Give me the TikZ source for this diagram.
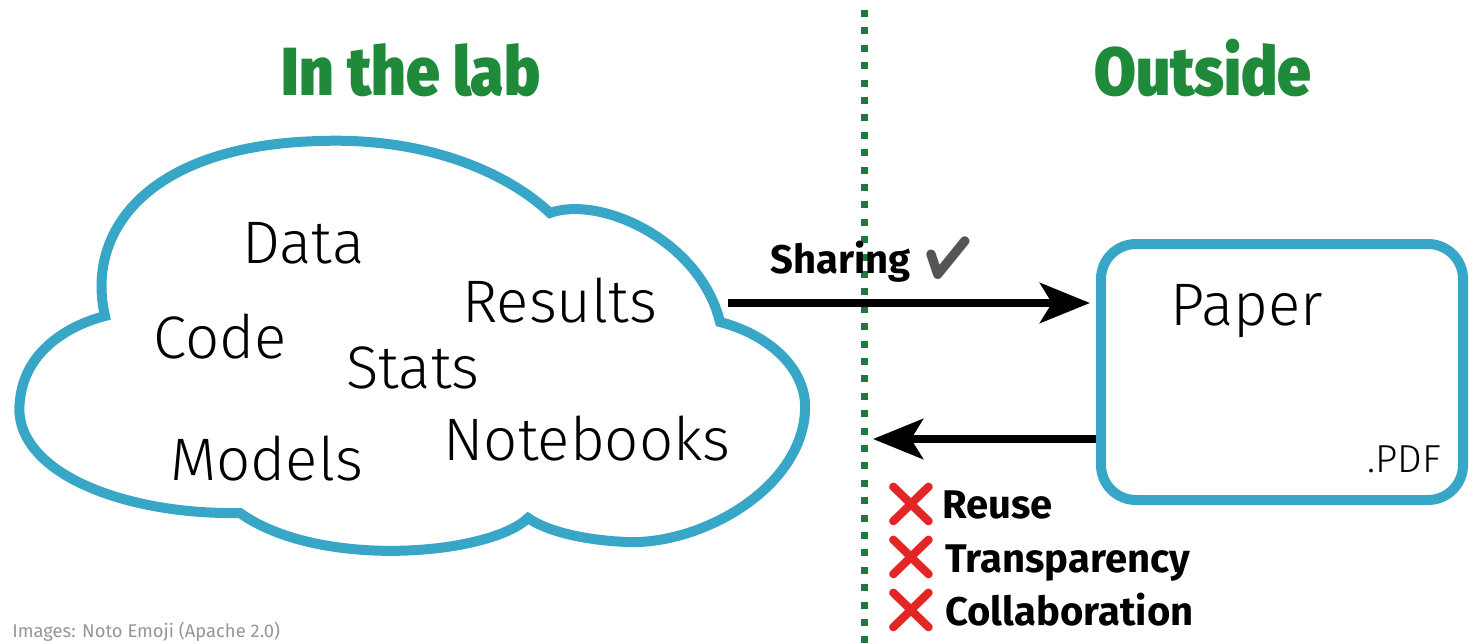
\documentclass[tikz,border=0pt]{standalone}
\usepackage{fontspec}
\setmainfont{Fira Sans}
\newfontfamily\lightf{Fira Sans Light}
\newfontfamily\heavyf{Fira Sans Black}[FakeStretch=0.89]
\newfontfamily\emojif{Noto Emoji}
\usetikzlibrary{arrows.meta}
\definecolor{cloudblue}{RGB}{56,166,199}
\definecolor{titlegreen}{RGB}{30,138,58}
\definecolor{dotgreen}{RGB}{27,122,62}
\definecolor{checkgray}{RGB}{85,85,85}
\definecolor{crossred}{RGB}{226,38,38}
\definecolor{footgray}{RGB}{150,150,150}
\begin{document}
\begin{tikzpicture}[x=0.5pt,y=-0.5pt,
  word/.style={anchor=base west, inner sep=0pt, font=\lightf\fontsize{30pt}{36pt}\selectfont},
  heading/.style={anchor=base, inner sep=0pt, text=titlegreen, font=\heavyf\fontsize{34pt}{40pt}\selectfont},
  boldlabel/.style={anchor=base west, inner sep=0pt, font=\bfseries\fontsize{20pt}{24pt}\selectfont},
  crossmark/.style={inner sep=0pt, text=crossred, font=\emojif\fontsize{22pt}{24pt}\selectfont},
  arrowline/.style={line width=4pt, -{Stealth[length=25pt,width=20pt,inset=6pt]}},
  outline/.style={draw=cloudblue, line width=5pt}]
\useasboundingbox (0,0) rectangle (1469,643);
\fill[white] (0,0) rectangle (1469,643);

% divider
\coordinate (divtop) at (864,10);
\coordinate (divbot) at (864,643);
\draw[dotgreen, line width=3.5pt, dash pattern=on 3.5pt off 5.2pt] (divtop) -- (divbot);

% headings
\node[heading] (lab) at (411,95) {In the lab};
\node[heading] (outside) at (1203,95) {Outside};

% cloud
\draw[outline, fill=white, line join=miter]
  (105,316) .. controls (85,230) and (150,145) .. (320,141)
  .. controls (430,137) and (510,175) .. (550,213)
  .. controls (600,195) and (700,240) .. (720,322)
  .. controls (770,335) and (808,370) .. (805,412)
  .. controls (800,490) and (700,545) .. (627,542)
  .. controls (580,540) and (545,530) .. (528,518)
  .. controls (490,555) and (320,570) .. (240,513)
  .. controls (120,515) and (10,470) .. (20,400)
  .. controls (25,350) and (70,325) .. (105,316) -- cycle;

\node[word] (data) at (242,263) {Data};
\node[word] (results) at (462,322) {Results};
\node[word] (code) at (153,358) {Code};
\node[word] (stats) at (346,388) {Stats};
\node[word] (notebooks) at (443,460) {Notebooks};
\node[word] (models) at (170,480) {Models};

% paper box
\node[outline, rounded corners=17.5pt, minimum width=181pt, minimum height=128pt, inner sep=0pt] (paper) at (1282,372) {};
\node[anchor=base west, inner sep=0pt, font=\lightf\fontsize{30pt}{36pt}\selectfont] (papertext) at (1170,325) {Paper};
\node[anchor=base west, inner sep=0pt, font=\lightf\fontsize{19.5pt}{22pt}\selectfont] (pdf) at (1367,472) {.PDF};

% sharing arrow
\coordinate (cloudR) at (728,303);
\draw[arrowline, shorten >=3pt] (cloudR) -- (paper.west |- cloudR);
\node[boldlabel] (sharing) at (770,273) {Sharing};
\node[inner sep=0pt, text=checkgray, font=\emojif\fontsize{21pt}{24pt}\selectfont] (check) at (948,258) {✔};

% return arrow
\coordinate (leftend) at (873,439);
\draw[arrowline] (paper.west |- leftend) -- (leftend);

% crosses
\node[crossmark] (x1) at (911,504) {❌};
\node[crossmark] (x2) at (911,557) {❌};
\node[crossmark] (x3) at (911,610) {❌};
\node[boldlabel] (reuse) at (942,518) {Reuse};
\node[boldlabel] (transp) at (945,572) {Transparency};
\node[boldlabel] (collab) at (945,625) {Collaboration};

% footer
\node[anchor=base west, inner sep=0pt, text=footgray, font=\fontsize{9.2pt}{11pt}\selectfont] (foot) at (12,637) {Images: Noto Emoji (Apache 2.0)};
\end{tikzpicture}
\end{document}
